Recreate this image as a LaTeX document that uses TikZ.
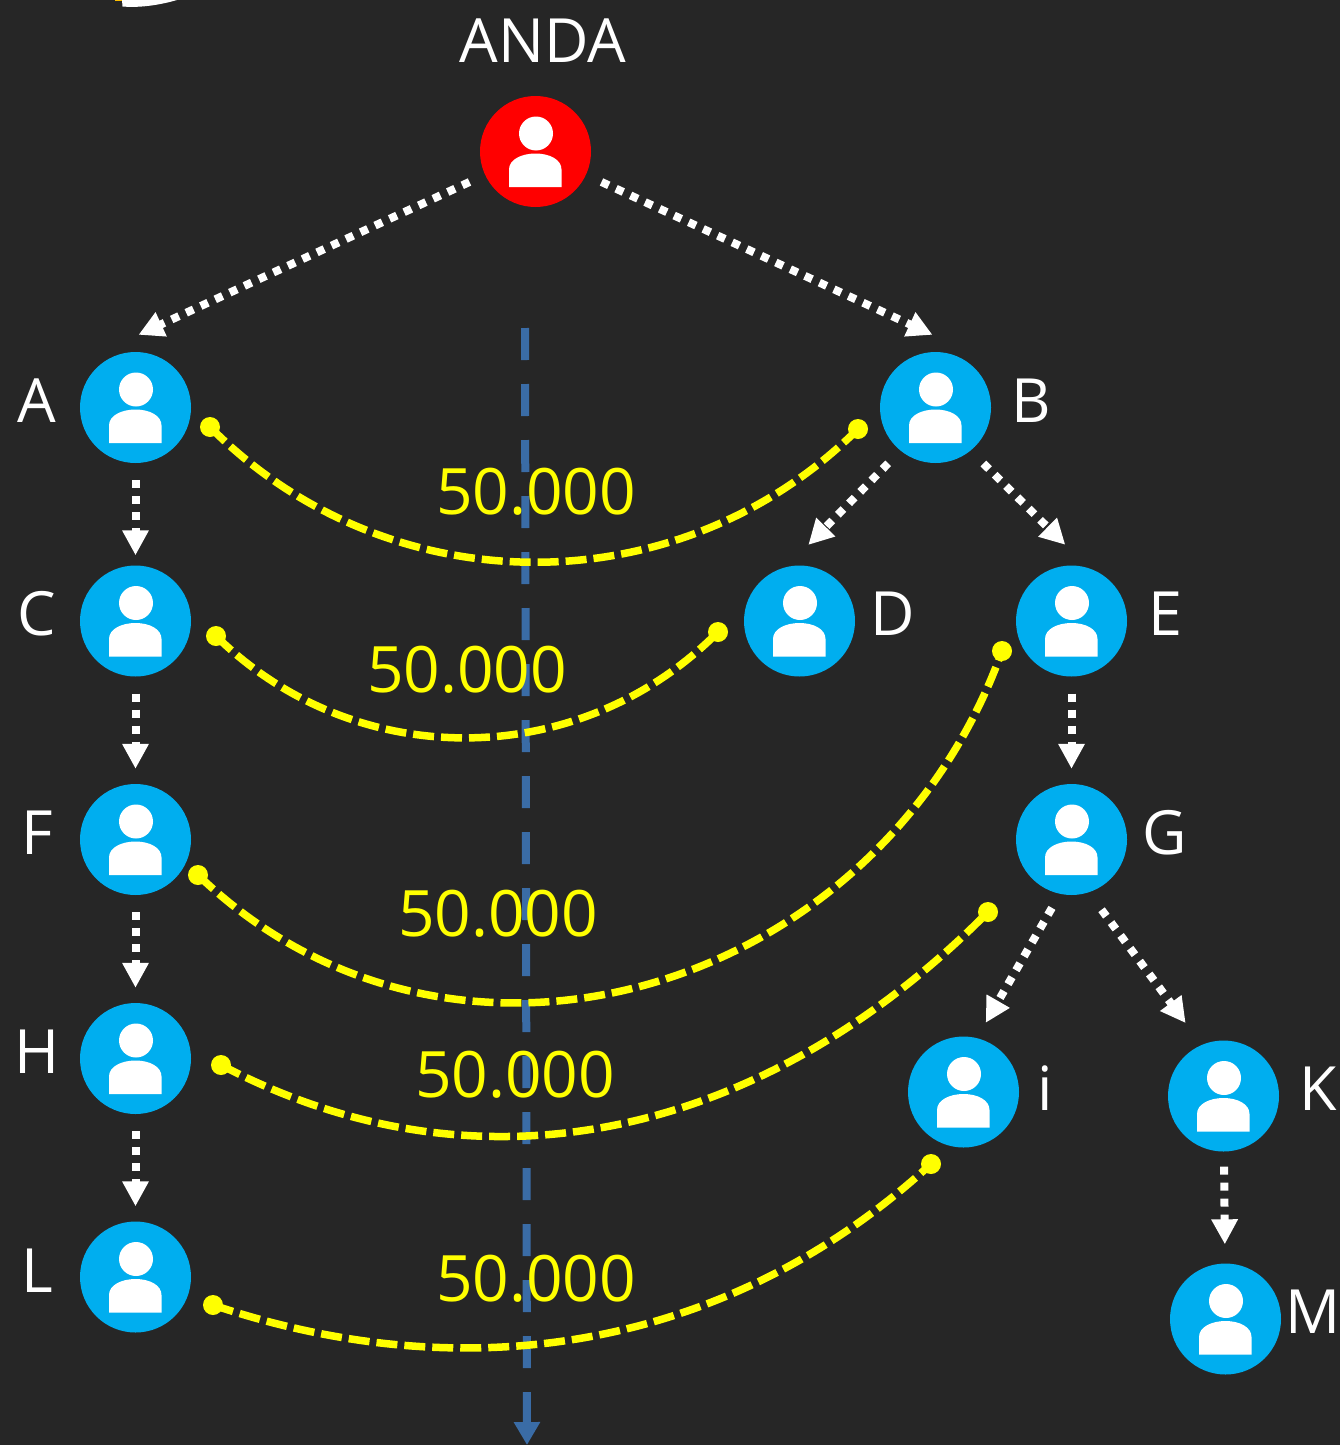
\documentclass[tikz,border=0pt]{standalone}
\usepackage{fontspec}
\setmainfont{Open Sans}
\usetikzlibrary{arrows.meta,calc}
\definecolor{bgdark}{HTML}{262626}
\definecolor{cyanperson}{HTML}{00AEEF}
\definecolor{redperson}{HTML}{FF0000}
\definecolor{axisblue}{HTML}{3A6CA6}
\definecolor{amountyellow}{HTML}{FFFF00}
\definecolor{logoorange}{HTML}{FFC000}
\tikzset{
  personnode/.style={circle,minimum size=111pt,inner sep=0pt,draw=none,fill=cyanperson},
  rootnode/.style={personnode,fill=redperson},
  whitelink/.style={draw=white,line width=8pt,dash pattern=on 8pt off 8pt,
    -{Triangle[width=25pt,length=25pt,fill=white]}},
  amountlink/.style={draw=amountyellow,line width=7.5pt,dash pattern=on 21pt off 7pt},
  enddot/.style={circle,minimum size=20pt,inner sep=0pt,draw=none,fill=amountyellow},
  axislink/.style={draw=axisblue,line width=8pt,dash pattern=on 32pt off 24pt,
    -{Triangle[width=25pt,length=23pt,fill=axisblue]}},
  namelabel/.style={anchor=base,text=white,font=\fontsize{61}{73}\selectfont,inner sep=0pt},
  amountlabel/.style={anchor=base,text=amountyellow,font=\fontsize{64}{76}\selectfont,inner sep=0pt},
}
\newcommand{\personicon}[1]{%
  \begin{scope}[shift={(#1.center)}]
    \fill[white] (0.5,-18) circle (17);
    \fill[white] (-26.5,35.7) -- (-26.5,18)
       .. controls (-26.5,8) and (-14,2) .. (0,2)
       .. controls (14,2) and (26,8) .. (26,18) -- (26,35.7) -- cycle;
  \end{scope}
}
\begin{document}
\begin{tikzpicture}[x=1pt,y=-1pt]
\useasboundingbox (0,0) rectangle (1340,1445);
\fill[bgdark] (0,0) rectangle (1340,1445);
% cropped logo fragment
\fill[logoorange] (115,0) rectangle (123,1);
\fill[white] (122,0) -- (122.5,6.5) .. controls (140,8) and (160,5) .. (177,0) -- cycle;
% axis
\coordinate (axistop) at (525,328);
\coordinate (axisbot) at (527,1445);
\draw[axislink] (axistop) -- (axisbot);
% persons
\node[rootnode] (anda) at (535.5,151.5) {};
\node[personnode] (A) at (135.5,407.5) {};
\node[personnode] (B) at (935.5,407.5) {};
\node[personnode] (C) at (135.5,621) {};
\node[personnode] (D) at (799.5,621) {};
\node[personnode] (E) at (1071.5,621) {};
\node[personnode] (F) at (135.5,839.5) {};
\node[personnode] (G) at (1071.5,839.5) {};
\node[personnode] (H) at (135.5,1058.5) {};
\node[personnode] (I) at (963.5,1092) {};
\node[personnode] (K) at (1223.5,1096) {};
\node[personnode] (L) at (135.5,1277) {};
\node[personnode] (M) at (1225.5,1319) {};
\foreach \n in {anda,A,B,C,D,E,F,G,H,I,K,L,M}{\personicon{\n}}
% white links
\coordinate (Atip) at ($(A.north)+(3,-17)$);
\coordinate (Btip) at ($(B.north)+(-3,-17)$);
\draw[whitelink,shorten <=17pt] (anda) -- (Atip);
\draw[whitelink,shorten <=17pt] (anda) -- (Btip);
\draw[whitelink,shorten <=17pt,shorten >=10pt] (A) -- (C);
\draw[whitelink,shorten <=17pt,shorten >=15pt] (C) -- (F);
\draw[whitelink,shorten <=17pt,shorten >=15pt] (F) -- (H);
\draw[whitelink,shorten <=17pt,shorten >=15pt] (H) -- (L);
\draw[whitelink,shorten <=17pt,shorten >=15pt] (E) -- (G);
\draw[whitelink,shorten <=15pt,shorten >=19pt] (K) -- (M);
\draw[whitelink,shorten <=17.5pt,shorten >=30.5pt] (B.231.5) -- (D.103);
\draw[whitelink,shorten <=18pt,shorten >=33pt] (B.309) -- (E.72);
\draw[whitelink,shorten <=16pt,shorten >=17.5pt] (G.258) -- (I.76);
\draw[whitelink,shorten <=21.5pt,shorten >=27pt] (G.288) -- (K.113);
% yellow links
\node[enddot] (a1) at (210,427) {};
\node[enddot] (b1) at (858,429) {};
\node[enddot] (a2) at (216,636) {};
\node[enddot] (b2) at (718,632) {};
\node[enddot] (a3) at (198,875) {};
\node[enddot] (b3) at (1002,651) {};
\node[enddot] (a4) at (221,1065) {};
\node[enddot] (b4) at (988,912) {};
\node[enddot] (a5) at (213,1305) {};
\node[enddot] (b5) at (931,1164) {};
\draw[amountlink] (a1.center) .. controls (389,607) and (679,607) .. (b1.center);
\draw[amountlink] (a2.center) .. controls (355,773) and (579,772) .. (b2.center);
\draw[amountlink] (a3.center) .. controls (455,1122) and (880,992) .. (b3.center);
\draw[amountlink] (a4.center) .. controls (490,1206) and (772,1130) .. (b4.center);
\draw[amountlink] (a5.center) .. controls (490,1398) and (745,1335) .. (b5.center);
% labels
\node[namelabel] (tanda) at (543,63) {ANDA};
\node[namelabel] (tA) at (37,422) {A};
\node[namelabel] (tB) at (1031,422) {B};
\node[namelabel] (tC) at (37,635) {C};
\node[namelabel] (tD) at (893,635) {D};
\node[namelabel] (tE) at (1165,635) {E};
\node[namelabel] (tF) at (37,854) {F};
\node[namelabel] (tG) at (1165,854) {G};
\node[namelabel] (tH) at (37,1073) {H};
\node[namelabel] (tI) at (1045,1110) {i};
\node[namelabel] (tK) at (1318,1110) {K};
\node[namelabel] (tL) at (37,1292) {L};
\node[namelabel] (tM) at (1313,1333) {M};
\node[amountlabel] (m1) at (536,514) {50.000};
\node[amountlabel] (m2) at (467,692) {50.000};
\node[amountlabel] (m3) at (498,936) {50.000};
\node[amountlabel] (m4) at (515,1097) {50.000};
\node[amountlabel] (m5) at (536,1301) {50.000};
\end{tikzpicture}
\end{document}
